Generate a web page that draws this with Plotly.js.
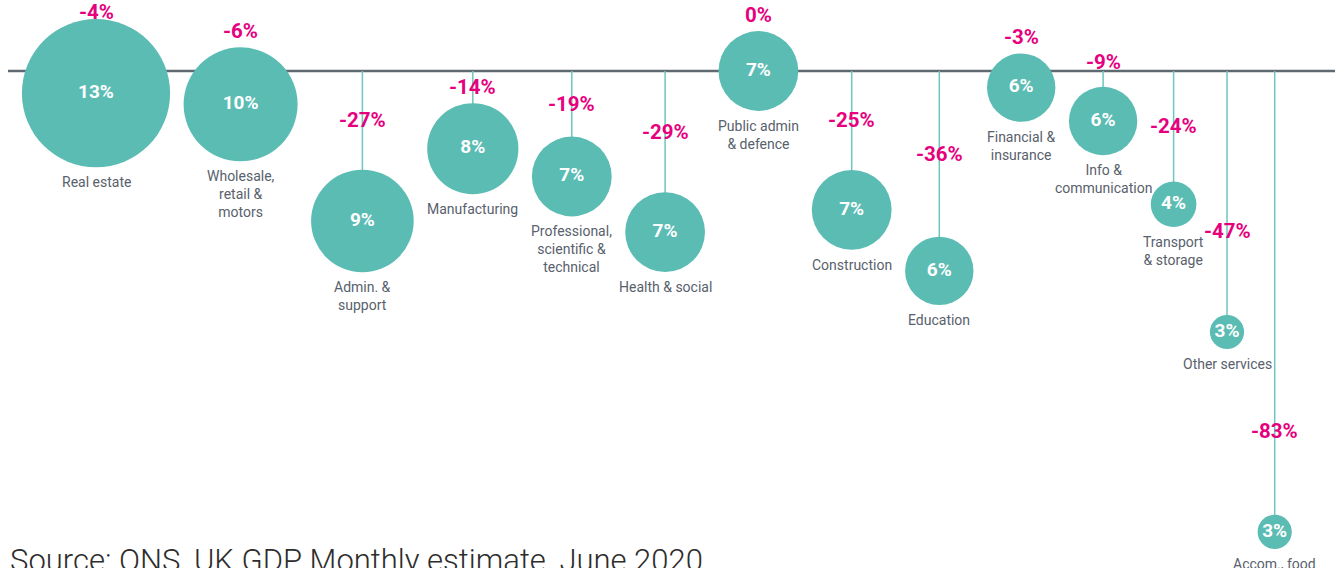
<!DOCTYPE html>
<html>
<head>
<meta charset="utf-8">
<script src="https://cdn.plot.ly/plotly-3.0.1.min.js"></script>
<style>
  html, body { margin: 0; padding: 0; background: #ffffff; overflow: hidden; }
  #chart { width: 1335px; height: 568px; }
</style>
</head>
<body>
<div id="chart"></div>
<script>
// ---- data ----
const sectors = [
  "Real estate",
  "Wholesale,<br>retail &<br>motors",
  "Admin. &<br>support",
  "Manufacturing",
  "Professional,<br>scientific &<br>technical",
  "Health & social",
  "Public admin<br>& defence",
  "Construction",
  "Education",
  "Financial &<br>insurance",
  "Info &<br>communication",
  "Transport<br>& storage",
  "Other services",
  "Accom., food"
];
// monthly change in output (%)
const change = [-4, -6, -27, -14, -19, -29, 0, -25, -36, -3, -9, -24, -47, -83];
// share of GDP (%)
const share = [13, 10, 9, 8, 7, 7, 7, 7, 6, 6, 6, 4, 3, 3];
const sourceText = "Source: ONS, UK GDP Monthly estimate, June 2020.";

// ---- layout constants ----
const W = 1335, H = 568;
const Y_TOP = 12.786, Y_BOTTOM = -89.5;
const PX_PER_UNIT = H / (Y_TOP - Y_BOTTOM);
const ZERO_PX = Y_TOP * PX_PER_UNIT;
const DIAM_PER_PCT = 11.4;
const GAP = 13.5;
const FIRST_X = 96;

const TEAL = "rgb(91,188,180)";
const STEM = "rgb(110,198,190)";
const MAGENTA = "rgb(230,0,126)";
const GREY = "rgb(88,97,108)";
const FONT = "Roboto, 'DejaVu Sans', sans-serif";

// bubble radii in px and packed horizontal positions
const diam = share.map(s => s * DIAM_PER_PCT);
const rad = diam.map(d => d / 2);
const xs = [];
rad.forEach((r, i) => {
  xs.push(i === 0 ? FIRST_X : xs[i - 1] + rad[i - 1] + GAP + r);
});

// stems from baseline to each bubble centre
const stemX = [], stemY = [];
xs.forEach((x, i) => { stemX.push(x, x, null); stemY.push(0, change[i], null); });

const stems = {
  type: "scatter", mode: "lines", x: stemX, y: stemY,
  line: { color: STEM, width: 1.5 }, hoverinfo: "skip"
};
const bubbles = {
  type: "scatter", mode: "markers+text", x: xs, y: change,
  marker: { size: diam, sizemode: "diameter", color: TEAL, line: { width: 0 }, opacity: 1 },
  text: share.map(s => s + "%"),
  textposition: "middle center",
  textfont: { family: FONT, size: 19, color: "#ffffff", weight: 700 },
  hoverinfo: "skip", cliponaxis: false
};

const annotations = [];
change.forEach((v, i) => {
  const centerPx = ZERO_PX - v * PX_PER_UNIT;
  const topPx = centerPx - rad[i];
  const gapPx = topPx - ZERO_PX;
  let py;
  if (gapPx > 30) {
    py = Math.max(ZERO_PX + gapPx / 2, topPx - 84);
  } else {
    py = Math.min(topPx - 16, ZERO_PX - 9);
  }
  py = Math.max(py, 12);
  annotations.push({
    x: xs[i], y: (ZERO_PX - py) / PX_PER_UNIT, xref: "x", yref: "y",
    text: v + "%", showarrow: false, xanchor: "center", yanchor: "middle",
    font: { family: FONT, size: 20.5, color: MAGENTA, weight: 700 }
  });
  annotations.push({
    x: xs[i], y: v, xref: "x", yref: "y",
    text: sectors[i], showarrow: false, xanchor: "center", yanchor: "top",
    yshift: -(rad[i] + 5), align: "center",
    font: { family: FONT, size: 14, color: GREY }
  });
});
annotations.push({
  x: 0, y: 0, xref: "paper", yref: "paper", xanchor: "left", yanchor: "middle",
  xshift: 8, yshift: 8, showarrow: false, text: sourceText,
  font: { family: FONT, size: 31, color: "rgb(45,45,45)", weight: 300 }
});

const layout = {
  width: W, height: H, autosize: false,
  margin: { l: 0, r: 0, t: 0, b: 0, pad: 0 },
  paper_bgcolor: "#ffffff", plot_bgcolor: "#ffffff",
  showlegend: false, hovermode: false,
  xaxis: { range: [0, W], visible: false, fixedrange: true },
  yaxis: { range: [Y_BOTTOM, Y_TOP], visible: false, fixedrange: true },
  shapes: [{
    type: "line", layer: "below", xref: "x", yref: "y",
    x0: 8, x1: W, y0: 0, y1: 0,
    line: { color: "rgb(95,105,113)", width: 2.5 }
  }],
  annotations: annotations
};

Plotly.newPlot("chart", [stems, bubbles], layout, { displayModeBar: false, staticPlot: true });
</script>
</body>
</html>
